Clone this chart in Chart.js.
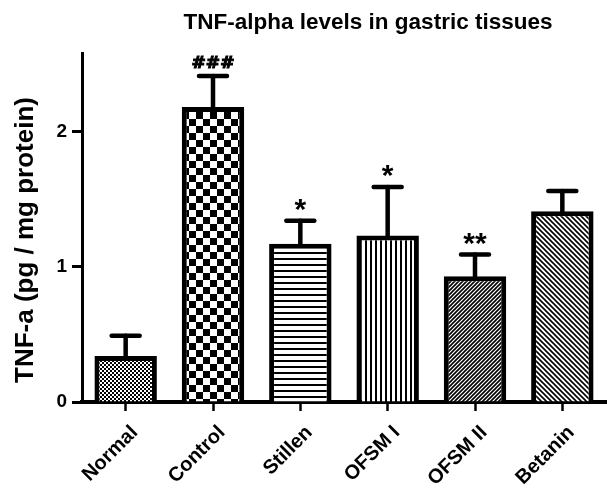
<!DOCTYPE html>
<html>
<head>
<meta charset="utf-8">
<script src="https://cdn.jsdelivr.net/npm/chart.js@4/dist/chart.umd.min.js"></script>
<style>
html,body{margin:0;padding:0;background:#fff;}
#wrap{width:607px;height:491px;}
</style>
</head>
<body>
<div id="wrap"><canvas id="c" width="607" height="491"></canvas></div>
<script>
// ---- data ----
const categories = ['Normal', 'Control', 'Stillen', 'OFSM I', 'OFSM II', 'Betanin'];
const meanValues = [0.34, 2.18, 1.17, 1.23, 0.93, 1.41];
const errorTops = [0.49, 2.41, 1.34, 1.59, 1.09, 1.56];
const significance = ['', '###', '*', '*', '**', ''];
const yTickValues = [0, 1, 2];
const yAxisMax = 2.58;
const chartTitle = 'TNF-alpha levels in gastric tissues';
const yAxisTitle = 'TNF-a (pg / mg protein)';

// ---- patterns ----
function makePattern(size, drawFn) {
  const c = document.createElement('canvas');
  c.width = size; c.height = size;
  const g = c.getContext('2d');
  g.fillStyle = '#fff';
  g.fillRect(0, 0, size, size);
  g.fillStyle = '#000';
  g.strokeStyle = '#000';
  drawFn(g, size);
  return document.createElement('canvas').getContext('2d').createPattern(c, 'repeat');
}
const patFineChecker = makePattern(4, (g) => { g.fillRect(0, 0, 2, 2); g.fillRect(2, 2, 2, 2); });
const patChecker = makePattern(14, (g) => { g.fillRect(0, 0, 7, 7); g.fillRect(7, 7, 7, 7); });
const patHoriz = makePattern(6, (g) => { g.fillRect(0, 0, 6, 2); });
const patVert = makePattern(5, (g) => { g.fillRect(0, 0, 2, 5); });
function diag(g, s, dir) {
  g.lineWidth = 1.6;
  g.beginPath();
  for (let k = -1; k <= 1; k++) {
    if (dir > 0) { g.moveTo(k * s - 1, s + 1); g.lineTo(k * s + s + 1, -1); }
    else { g.moveTo(k * s - 1, -1); g.lineTo(k * s + s + 1, s + 1); }
  }
  g.stroke();
}
const patDiagUp = makePattern(4, (g, s) => diag(g, s, 1));
const patDiagDown = makePattern(5, (g, s) => diag(g, s, -1));
const fills = [patFineChecker, patChecker, patHoriz, patVert, patDiagUp, patDiagDown];

// ---- plugin: error bars, significance marks, titles ----
const decorPlugin = {
  id: 'decor',
  afterDatasetsDraw(chart) {
    const ctx = chart.ctx;
    const meta = chart.getDatasetMeta(0);
    const y = chart.scales.y;
    ctx.save();
    ctx.strokeStyle = '#000';
    ctx.fillStyle = '#000';
    ctx.lineCap = 'round';
    meta.data.forEach((bar, i) => {
      const x = bar.x;
      const yTop = y.getPixelForValue(meanValues[i]);
      const yErr = y.getPixelForValue(errorTops[i]);
      ctx.lineWidth = 4.5;
      ctx.beginPath();
      ctx.moveTo(x, yTop);
      ctx.lineTo(x, yErr);
      ctx.stroke();
      ctx.beginPath();
      ctx.moveTo(x - 14, yErr);
      ctx.lineTo(x + 14, yErr);
      ctx.stroke();
      const mark = significance[i];
      if (mark) {
        const isHash = mark.indexOf('#') >= 0;
        ctx.font = isHash ? 'bold 19px "DejaVu Sans", sans-serif' : 'bold 30px "Liberation Sans", Arial, sans-serif';
        ctx.textAlign = 'center';
        ctx.textBaseline = 'alphabetic';
        const m = ctx.measureText(mark);
        const gap = isHash ? 8 : 10;
        const baseline = yErr - gap - m.actualBoundingBoxDescent;
        ctx.save();
        if (isHash) {
          ctx.translate(x, baseline);
          ctx.scale(0.9, 0.85);
          ctx.lineWidth = 1.2;
          ctx.lineCap = 'butt';
          ctx.fillText(mark, 0, 0);
          ctx.strokeText(mark, 0, 0);
        } else {
          ctx.fillText(mark, x, baseline);
        }
        ctx.restore();
      }
    });
    ctx.restore();
  },
  afterDraw(chart) {
    const ctx = chart.ctx;
    ctx.save();
    ctx.fillStyle = '#000';
    ctx.textAlign = 'center';
    ctx.textBaseline = 'middle';
    ctx.font = 'bold 22.5px "Liberation Sans", Arial, sans-serif';
    ctx.fillText(chartTitle, 368, 23);
    ctx.translate(26, 240);
    ctx.rotate(-Math.PI / 2);
    ctx.font = 'bold 26px "Liberation Sans", Arial, sans-serif';
    ctx.fillText(yAxisTitle, 0, 0);
    ctx.restore();
  }
};

new Chart(document.getElementById('c'), {
  type: 'bar',
  data: {
    labels: categories,
    datasets: [{
      data: meanValues,
      backgroundColor: fills,
      borderColor: '#000',
      borderWidth: 5,
      borderSkipped: 'start',
      barPercentage: 0.715,
      categoryPercentage: 1.0
    }]
  },
  options: {
    responsive: false,
    animation: false,
    devicePixelRatio: 1,
    layout: { padding: { top: 53, right: 1, left: 0, bottom: 0 } },
    plugins: {
      legend: { display: false },
      title: { display: false },
      tooltip: { enabled: false }
    },
    scales: {
      x: {
        offset: true,
        grid: { offset: false, drawOnChartArea: false, drawTicks: true, tickLength: 9, tickWidth: 2.5, color: '#000' },
        border: { display: true, width: 4, color: '#000' },
        ticks: {
          color: '#000',
          font: { family: '"Liberation Sans", Arial, sans-serif', size: 20, weight: 'bold' },
          minRotation: 45, maxRotation: 45, padding: 10, labelOffset: 9, autoSkip: false
        },
        afterFit(s) { s.height = 89; }
      },
      y: {
        min: 0, max: yAxisMax,
        afterBuildTicks(s) { s.ticks = yTickValues.map(v => ({ value: v })); },
        grid: { drawOnChartArea: false, drawTicks: true, tickLength: 10, tickWidth: 3, color: '#000' },
        border: { display: true, width: 3, color: '#000' },
        ticks: {
          color: '#000', padding: 5,
          font: { family: '"Liberation Sans", Arial, sans-serif', size: 19, weight: 'bold' }
        },
        afterFit(s) { s.width = 82; }
      }
    }
  },
  plugins: [decorPlugin]
});
</script>
</body>
</html>
